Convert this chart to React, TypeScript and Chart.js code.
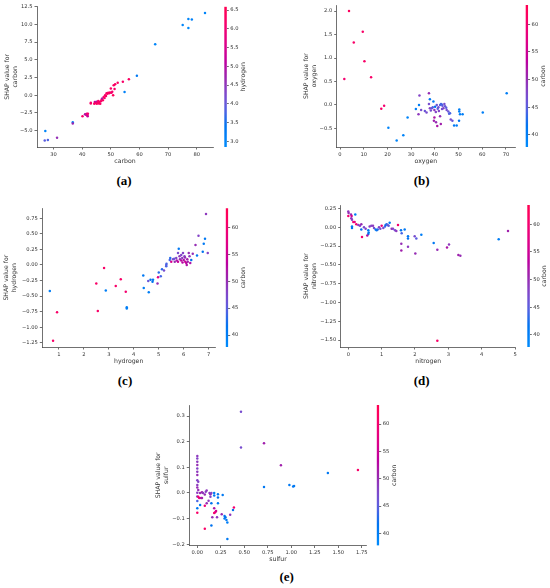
import React, { useEffect, useRef } from 'react'
import { Chart, registerables } from 'chart.js'

Chart.register(...registerables)

const FONT = '"DejaVu Sans", sans-serif'
const INK = '#333333'

// ---- (a) carbon vs SHAP, coloured by hydrogen ----
const aCarbon = [27.1, 26.9, 28.0, 31.2, 36.7, 36.7, 40.1, 41.0, 41.3, 41.6, 41.8, 42.0, 41.9, 43.0, 43.0, 44.2, 44.4, 44.6, 45.0, 45.1, 45.4, 45.6, 45.8, 46.0, 46.3, 46.5, 46.8, 47.0, 47.2, 47.5, 47.8, 48.0, 48.3, 48.5, 48.8, 49.1, 49.4, 49.7, 50.0, 50.2, 50.5, 50.8, 51.0, 51.3, 51.5, 52.4, 54.2, 56.3, 54.8, 59.1, 65.5, 75.1, 77.1, 77.1, 78.3, 82.9]
const aShap = [-5.05, -6.4, -6.3, -6.0, -3.8, -4.0, -2.97, -2.69, -2.75, -2.6, -2.85, -2.62, -2.95, -1.15, -1.05, -1.2, -0.95, -1.1, -0.9, -1.2, -1.0, -0.8, -1.15, -0.95, -1.2, -0.85, -0.6, -0.45, -0.7, -0.25, -0.4, 0.0, -0.1, 0.3, 0.2, 0.35, 0.3, 0.4, 0.95, 0.35, 0.5, 0.0, 1.4, 0.9, 1.55, 1.75, 1.9, 2.26, 0.47, 2.74, 7.2, 9.9, 9.5, 10.75, 10.7, 11.6]
const aHydrogen = [3.0, 3.9, 3.8, 4.6, 3.1, 4.7, 6.2, 5.0, 4.9, 5.8, 5.9, 6.1, 5.3, 6.3, 6.2, 6.3, 5.2, 6.4, 5.0, 6.3, 6.2, 6.1, 6.4, 6.3, 6.2, 6.3, 6.0, 4.8, 6.3, 6.2, 6.4, 6.3, 6.2, 6.1, 6.3, 6.4, 6.2, 6.3, 6.3, 6.2, 6.1, 6.4, 6.3, 6.2, 6.3, 6.3, 6.2, 6.3, 3.1, 3.3, 3.0, 3.0, 2.9, 3.0, 3.1, 3.0]

// ---- (b) oxygen vs SHAP, coloured by carbon ----
const bOxygen = [3.8, 9.6, 5.8, 10.3, 13.1, 1.8, 18.6, 17.4, 20.4, 23.9, 26.7, 28.5, 32.0, 33.3, 33.5, 33.1, 34.2, 35.8, 36.5, 37.5, 37.9, 37.5, 37.9, 38.7, 39.4, 39.1, 39.8, 40.1, 40.8, 41.5, 41.7, 42.2, 42.6, 43.2, 43.6, 44.0, 44.3, 45.0, 45.7, 46.0, 46.4, 39.8, 39.6, 40.5, 41.0, 42.5, 42.2, 46.7, 47.4, 48.1, 49.2, 50.2, 50.3, 50.3, 50.6, 51.7, 60.2, 70.3, 41.2, 43.0, 44.8, 38.3, 42.9, 40.4]
const bShap = [2.0, 1.56, 1.33, 0.93, 0.59, 0.55, -0.02, -0.08, -0.49, -0.76, -0.65, -0.27, -0.09, 0.0, 0.2, -0.2, -0.11, -0.13, -0.16, 0.25, 0.12, 0.02, -0.07, -0.07, 0.07, -0.05, -0.11, -0.04, 0.0, -0.05, -0.13, 0.0, 0.02, -0.02, -0.07, 0.02, -0.03, -0.11, -0.14, -0.19, -0.18, -0.27, -0.34, -0.37, -0.45, -0.41, -0.24, -0.31, -0.34, -0.44, -0.44, -0.34, -0.1, -0.14, -0.2, -0.2, -0.16, 0.25, -0.08, -0.09, -0.06, -0.12, 0.01, -0.15]
const bCarbon = [62, 61, 61, 61, 61, 60, 60, 61, 39, 39, 39, 39, 40, 40, 48, 49, 47, 46, 47, 50, 41, 47, 48, 46, 41, 45, 49, 42, 46, 47, 48, 45, 44, 46, 48, 47, 46, 47, 46, 45, 44, 52, 51, 50, 52, 51, 50, 47, 46, 41, 40, 42, 40, 40, 40, 40, 40, 40, 45, 47, 45, 47, 44, 48]

// ---- (c) hydrogen vs SHAP, coloured by carbon ----
const cHydrogen = [0.64, 0.77, 0.93, 2.50, 2.56, 2.81, 2.88, 3.28, 3.48, 3.68, 3.72, 3.72, 4.38, 4.40, 4.58, 4.60, 4.67, 4.75, 4.77, 4.95, 4.97, 5.00, 5.08, 5.13, 5.21, 5.30, 5.30, 5.31, 5.44, 5.46, 5.50, 5.57, 5.64, 5.70, 5.77, 5.77, 5.80, 5.83, 5.90, 5.90, 5.94, 5.97, 6.00, 6.03, 6.06, 6.10, 6.12, 6.16, 6.20, 6.23, 6.26, 6.30, 6.36, 6.47, 6.53, 6.59, 6.76, 6.80, 6.85, 6.89, 6.96, 5.85, 5.95, 6.05, 5.72, 6.14, 5.62]
const cShap = [-0.42, -1.22, -0.76, -0.30, -0.74, -0.05, -0.41, -0.34, -0.23, -0.43, -0.68, -0.70, -0.17, -0.37, -0.26, -0.44, -0.24, -0.27, -0.24, -0.30, -0.20, -0.12, -0.18, -0.07, -0.09, -0.02, 0.00, 0.02, 0.08, 0.11, 0.05, 0.09, 0.05, 0.11, 0.19, 0.05, 0.26, 0.14, 0.16, 0.07, 0.11, 0.19, 0.08, 0.14, 0.05, 0.03, 0.00, 0.05, 0.19, 0.14, 0.03, 0.08, 0.18, 0.32, 0.15, 0.47, 0.21, 0.34, 0.42, 0.82, 0.19, 0.09, 0.04, 0.12, 0.07, 0.09, 0.10]
const cCarbon = [40, 61, 61, 61, 61, 61, 40, 61, 61, 60, 40, 40, 41, 40, 46, 40, 42, 42, 41, 50, 57, 43, 44, 43, 47, 44, 45, 44, 44, 43, 56, 47, 50, 48, 47, 55, 41, 49, 48, 54, 49, 48, 52, 48, 55, 54, 52, 51, 50, 49, 52, 42, 50, 50, 41, 48, 42, 41, 41, 49, 48, 50, 53, 50, 52, 51, 46]

// ---- (d) nitrogen vs SHAP, coloured by carbon ----
const dNitrogen = [0.00, 0.01, 0.00, 0.08, 0.10, 0.21, 0.09, 0.11, 0.15, 0.19, 0.24, 0.11, 0.11, 0.30, 0.35, 0.39, 0.41, 0.39, 0.47, 0.52, 0.60, 0.61, 0.60, 0.57, 0.64, 0.69, 0.74, 0.77, 0.82, 0.85, 0.88, 0.92, 0.96, 1.00, 1.05, 1.10, 1.12, 1.15, 1.18, 1.21, 1.24, 1.30, 1.34, 1.40, 1.44, 1.49, 1.58, 1.60, 1.59, 1.59, 1.69, 1.79, 1.79, 1.79, 1.99, 2.04, 2.01, 2.19, 2.56, 2.67, 2.67, 2.96, 3.02, 3.30, 3.36, 4.51, 4.79]
const dShap = [0.21, 0.19, 0.15, 0.17, 0.15, 0.17, 0.12, 0.10, 0.07, 0.07, 0.04, 0.01, -0.01, 0.03, 0.02, 0.04, -0.13, -0.03, 0.00, -0.02, -0.04, -0.07, -0.09, -0.11, 0.01, 0.02, 0.02, -0.01, -0.03, -0.04, -0.03, 0.00, -0.02, 0.02, -0.01, 0.01, 0.03, 0.04, 0.03, 0.02, 0.06, -0.02, -0.02, -0.04, -0.05, 0.03, -0.04, -0.08, -0.22, -0.31, -0.03, -0.12, -0.15, -0.26, -0.12, -0.15, -0.35, -0.10, -0.21, -0.30, -1.51, -0.27, -0.23, -0.37, -0.38, -0.16, -0.05]
const dCarbon = [49, 50, 60, 50, 56, 40, 49, 48, 60, 58, 60, 41, 42, 49, 48, 50, 60, 42, 47, 48, 41, 41, 42, 52, 49, 48, 49, 47, 42, 41, 43, 48, 47, 59, 47, 44, 42, 43, 46, 45, 41, 50, 48, 47, 49, 60, 42, 44, 50, 51, 41, 41, 42, 49, 47, 45, 50, 40, 41, 50, 61, 52, 49, 51, 50, 40, 51]

// ---- (e) sulfur vs SHAP, coloured by carbon ----
const eSulfur = [0, 0, 0, 0, 0, 0, 0, 0, 0, 0, 0, 0, 0.01, 0.01, 0.0, 0.0, 0.0, 0.03, 0.05, 0.06, 0.08, 0.09, 0.10, 0.04, 0.05, 0.02, 0.01, 0.03, 0.08, 0.10, 0.12, 0.13, 0.14, 0.14, 0.15, 0.18, 0.18, 0.22, 0.22, 0.15, 0.18, 0.19, 0.18, 0.20, 0.16, 0.21, 0.22, 0.27, 0.26, 0.29, 0.30, 0.29, 0.31, 0.32, 0.35, 0.38, 0.39, 0.15, 0.08, 0.32, 0.465, 0.465, 0.71, 0.89, 0.71, 0.98, 1.02, 1.03, 1.39, 1.71]
const eShap = [0.144, 0.135, 0.122, 0.109, 0.096, 0.083, 0.070, 0.050, 0.031, 0.021, 0.001, -0.014, 0.044, 0.012, -0.031, -0.060, -0.077, 0.000, 0.003, 0.000, -0.006, 0.005, 0.010, -0.020, -0.020, -0.020, -0.015, -0.047, -0.050, -0.040, -0.030, 0.000, -0.015, -0.005, 0.000, -0.010, 0.000, -0.005, -0.018, -0.040, -0.060, -0.075, -0.078, -0.070, -0.095, -0.095, -0.040, -0.008, -0.083, -0.090, -0.095, -0.100, -0.105, -0.115, -0.085, -0.066, -0.057, -0.127, -0.140, -0.180, 0.317, 0.178, 0.194, 0.108, 0.023, 0.031, 0.025, 0.027, 0.078, 0.090]
const eCarbon = [49, 48, 49, 50, 48, 49, 50, 48, 49, 50, 49, 48, 48, 50, 44, 41, 61, 50, 51, 49, 50, 48, 49, 52, 51, 57, 60, 41, 59, 50, 49, 49, 48, 50, 48, 41, 40, 41, 42, 42, 52, 58, 60, 56, 50, 49, 41, 41, 50, 41, 42, 41, 41, 40, 49, 42, 60, 42, 61, 41, 47, 47, 51, 51, 41, 41, 41, 41, 41, 61]

// ---- tick labels ----
const aXTicks = [30, 40, 50, 60, 70, 80]
const aYTicks = [-5, -2.5, 0, 2.5, 5, 7.5, 10, 12.5]
const bXTicks = [0, 10, 20, 30, 40, 50, 60, 70]
const bYTicks = [-0.5, 0, 0.5, 1, 1.5, 2]
const cXTicks = [1, 2, 3, 4, 5, 6, 7]
const cYTicks = [-1.25, -1, -0.75, -0.5, -0.25, 0, 0.25, 0.5, 0.75]
const dXTicks = [0, 1, 2, 3, 4, 5]
const dYTicks = [-1.5, -1.25, -1, -0.75, -0.5, -0.25, 0, 0.25]
const eXTicks = [0, 0.25, 0.5, 0.75, 1, 1.25, 1.5, 1.75]
const eYTicks = [-0.2, -0.1, 0, 0.1, 0.2, 0.3]
const hydrogenTicks = [3, 3.5, 4, 4.5, 5, 5.5, 6, 6.5]
const carbonTicks = [40, 45, 50, 55, 60]

// shap red_blue colour map (interpolated in LCH space)
function lchToRgb (l: number, c: number, h: number) {
  const a = c * Math.cos(h)
  const b = c * Math.sin(h)
  const fy = (l + 16) / 116
  const fx = fy + a / 500
  const fz = fy - b / 200
  const finv = (t: number) => (t > 6 / 29 ? t * t * t : 3 * (6 / 29) ** 2 * (t - 4 / 29))
  const X = 0.95047 * finv(fx)
  const Y = finv(fy)
  const Z = 1.08883 * finv(fz)
  const lin = [
    3.2406 * X - 1.5372 * Y - 0.4986 * Z,
    -0.9689 * X + 1.8758 * Y + 0.0415 * Z,
    0.0557 * X - 0.204 * Y + 1.057 * Z,
  ]
  return lin.map(v => {
    const u = Math.min(1, Math.max(0, v))
    const s = u <= 0.0031308 ? 12.92 * u : 1.055 * Math.pow(u, 1 / 2.4) - 0.055
    return Math.round(s * 255)
  })
}

function redBlue (t: number) {
  const k = Math.min(1, Math.max(0, t))
  const l = k < 0.5 ? 54 - 14 * (k / 0.5) : 40 + 14 * ((k - 0.5) / 0.5)
  const c = 70 + 20 * k
  const h = 4.6588 + (0.35470565 + 2 * Math.PI - 4.6588) * k
  const [r, g, b] = lchToRgb(l, c, h)
  return `rgb(${r},${g},${b})`
}

const fmt = (v: number, d: number) => (v < 0 ? '\u2212' : '') + Math.abs(v).toFixed(d)

interface PanelSpec {
  tag: string
  feature: string
  colorBy: string
  xs: number[]
  ys: number[]
  cs: number[]
  xTicks: number[]
  yTicks: number[]
  cTicks: number[]
  xDec: number
  yDec: number
  cDec: number
  xRange: [number, number]
  yRange: [number, number]
  cRange: [number, number]
  plot: { left: number, right: number, top: number, bottom: number }
  yTitleX: number
  xTitleY: number
  cbX: number
  cbLabelOff: number
  tagPos: [number, number]
}

const panels: PanelSpec[] = [
  {
    tag: '(a)', feature: 'carbon', colorBy: 'hydrogen', xs: aCarbon, ys: aShap, cs: aHydrogen,
    xTicks: aXTicks, yTicks: aYTicks, cTicks: hydrogenTicks, xDec: 0, yDec: 1, cDec: 1,
    xRange: [24.2, 85.7], yRange: [-7.3, 12.5], cRange: [2.85, 6.59],
    plot: { left: 37, right: 213, top: 6.7, bottom: 147 }, yTitleX: 7, xTitleY: 161,
    cbX: 224.3, cbLabelOff: 16.5, tagPos: [124, 181],
  },
  {
    tag: '(b)', feature: 'oxygen', colorBy: 'carbon', xs: bOxygen, ys: bShap, cs: bCarbon,
    xTicks: bXTicks, yTicks: bYTicks, cTicks: carbonTicks, xDec: 0, yDec: 1, cDec: 0,
    xRange: [-1.4, 73.8], yRange: [-0.898, 2.128], cRange: [37.8, 63.5],
    plot: { left: 336.7, right: 515, top: 5, bottom: 147 }, yTitleX: 306.7, xTitleY: 161,
    cbX: 525.6, cbLabelOff: 15.1, tagPos: [421.7, 181],
  },
  {
    tag: '(c)', feature: 'hydrogen', colorBy: 'carbon', xs: cHydrogen, ys: cShap, cs: cCarbon,
    xTicks: cXTicks, yTicks: cYTicks, cTicks: carbonTicks, xDec: 0, yDec: 2, cDec: 0,
    xRange: [0.34, 7.25], yRange: [-1.319, 0.91], cRange: [37.8, 63.5],
    plot: { left: 42.3, right: 215, top: 208.3, bottom: 347 }, yTitleX: 6.7, xTitleY: 361,
    cbX: 225.7, cbLabelOff: 15.1, tagPos: [125, 381],
  },
  {
    tag: '(d)', feature: 'nitrogen', colorBy: 'carbon', xs: dNitrogen, ys: dShap, cs: dCarbon,
    xTicks: dXTicks, yTicks: dYTicks, cTicks: carbonTicks, xDec: 0, yDec: 2, cDec: 0,
    xRange: [-0.228, 5.02], yRange: [-1.593, 0.294], cRange: [37.8, 63.5],
    plot: { left: 340.7, right: 515.7, top: 205, bottom: 347 }, yTitleX: 306.7, xTitleY: 361,
    cbX: 527.3, cbLabelOff: 14.8, tagPos: [421.7, 381],
  },
  {
    tag: '(e)', feature: 'sulfur', colorBy: 'carbon', xs: eSulfur, ys: eShap, cs: eCarbon,
    xTicks: eXTicks, yTicks: eYTicks, cTicks: carbonTicks, xDec: 2, yDec: 1, cDec: 0,
    xRange: [-0.085, 1.803], yRange: [-0.205, 0.343], cRange: [37.8, 63.5],
    plot: { left: 189.3, right: 366.7, top: 405, bottom: 545.5 }, yTitleX: 158.3, xTitleY: 559,
    cbX: 376.7, cbLabelOff: 14.8, tagPos: [286.7, 577],
  },
]

const TICK_SIZE = 5.2
const TITLE_SIZE = 6.2
const Y_LH = 1.3
const X_LH = 1.2

function geometry (p: PanelSpec) {
  const titleLeft = p.yTitleX - (3 + (TITLE_SIZE * Y_LH) / 2)
  const left = Math.floor(titleLeft)
  const top = Math.floor(p.plot.top - 5)
  const bottomEdge = p.xTitleY + (TITLE_SIZE * X_LH) / 2 + 1
  const bottom = Math.ceil(bottomEdge)
  const right = Math.ceil(p.plot.right + 6)
  const cbLeft = Math.floor(p.cbX - 2)
  const cbRight = Math.min(550, cbLeft + 30)
  const cbBottom = Math.ceil(p.plot.bottom + 5)
  return {
    left, top, width: right - left, height: bottom - top,
    padLeft: titleLeft - left, padTop: p.plot.top - top, padRight: right - p.plot.right, padBottom: bottom - bottomEdge,
    yAxisW: p.plot.left - titleLeft, xAxisH: bottomEdge - p.plot.bottom,
    cbLeft, cbWidth: cbRight - cbLeft, cbHeight: cbBottom - top,
    cbPadLeft: p.cbX - cbLeft, cbPadBottom: cbBottom - p.plot.bottom,
    cbAxisW: cbRight - cbLeft - (p.cbX - cbLeft) - 2.5,
  }
}

function Panel ({ p }: { p: PanelSpec }) {
  const plotRef = useRef<HTMLCanvasElement>(null)
  const barRef = useRef<HTMLCanvasElement>(null)
  const g = geometry(p)

  useEffect(() => {
    if (!plotRef.current || !barRef.current) return
    const norm = (v: number) => (v - p.cRange[0]) / (p.cRange[1] - p.cRange[0])
    const axisLine = { display: true, color: INK, width: 0.7 }
    const tickGrid = { drawOnChartArea: false, drawTicks: true, tickLength: 2.5, color: INK, lineWidth: 0.7 }
    const tickFont = { family: FONT, size: TICK_SIZE, lineHeight: 1.2 }

    const scatter = new Chart(plotRef.current, {
      type: 'scatter',
      data: {
        datasets: [{
          data: p.xs.map((x, i) => ({ x, y: p.ys[i] })),
          backgroundColor: p.cs.map(c => redBlue(norm(c))),
          pointRadius: 1.25,
          pointHoverRadius: 1.25,
          borderWidth: 0,
        }],
      },
      options: {
        responsive: false,
        animation: false,
        events: [],
        layout: { padding: { left: g.padLeft, top: g.padTop, right: g.padRight, bottom: g.padBottom } },
        plugins: { legend: { display: false }, tooltip: { enabled: false } },
        scales: {
          x: {
            type: 'linear',
            min: p.xRange[0],
            max: p.xRange[1],
            afterBuildTicks: (s: any) => { s.ticks = p.xTicks.map(v => ({ value: v })) },
            afterFit: (s: any) => { s.height = g.xAxisH },
            ticks: { font: tickFont, color: INK, padding: 2, maxRotation: 0, autoSkip: false, callback: (v: any) => fmt(Number(v), p.xDec) },
            grid: tickGrid,
            border: axisLine,
            title: { display: true, text: p.feature, color: INK, font: { family: FONT, size: TITLE_SIZE, lineHeight: X_LH }, padding: { top: 0, bottom: 1 } },
          },
          y: {
            type: 'linear',
            min: p.yRange[0],
            max: p.yRange[1],
            afterBuildTicks: (s: any) => { s.ticks = p.yTicks.map(v => ({ value: v })) },
            afterFit: (s: any) => { s.width = g.yAxisW },
            ticks: { font: tickFont, color: INK, padding: 2, autoSkip: false, callback: (v: any) => fmt(Number(v), p.yDec) },
            grid: tickGrid,
            border: axisLine,
            title: { display: true, text: ['SHAP value for', p.feature], color: INK, font: { family: FONT, size: TITLE_SIZE, lineHeight: Y_LH }, padding: { top: 3, bottom: 0 } },
          },
        },
      },
    })

    const labelPlugin = {
      id: 'cbLabel',
      afterDraw (chart: any) {
        const { ctx, chartArea } = chart
        ctx.save()
        ctx.translate(chartArea.right + p.cbLabelOff, (chartArea.top + chartArea.bottom) / 2)
        ctx.rotate(-Math.PI / 2)
        ctx.font = `${TITLE_SIZE}px ${FONT}`
        ctx.fillStyle = INK
        ctx.textAlign = 'center'
        ctx.textBaseline = 'middle'
        ctx.fillText(p.colorBy, 0, 0)
        ctx.restore()
      },
    }

    const colorbar = new Chart(barRef.current, {
      type: 'bar',
      data: {
        labels: [''],
        datasets: [{
          data: [[p.cRange[0], p.cRange[1]]] as any,
          backgroundColor: (c: any) => {
            const { ctx, chartArea } = c.chart
            if (!chartArea) return redBlue(0.5)
            const grad = ctx.createLinearGradient(0, chartArea.bottom, 0, chartArea.top)
            for (let i = 0; i <= 20; i++) grad.addColorStop(i / 20, redBlue(i / 20))
            return grad
          },
          borderWidth: 0,
          barPercentage: 1,
          categoryPercentage: 1,
        }],
      },
      options: {
        responsive: false,
        animation: false,
        events: [],
        layout: { padding: { left: g.cbPadLeft, top: g.padTop, right: 0, bottom: g.cbPadBottom } },
        plugins: { legend: { display: false }, tooltip: { enabled: false } },
        scales: {
          x: { display: false },
          y: {
            position: 'right',
            min: p.cRange[0],
            max: p.cRange[1],
            afterBuildTicks: (s: any) => { s.ticks = p.cTicks.map(v => ({ value: v })) },
            afterFit: (s: any) => { s.width = g.cbAxisW },
            ticks: { font: tickFont, color: INK, padding: 1.5, autoSkip: false, callback: (v: any) => fmt(Number(v), p.cDec) },
            grid: { drawOnChartArea: false, drawTicks: true, tickLength: 2, color: INK, lineWidth: 0.7 },
            border: { display: false },
          },
        },
      },
      plugins: [labelPlugin],
    })

    return () => {
      scatter.destroy()
      colorbar.destroy()
    }
  }, [p])

  return (
    <>
      <canvas ref={plotRef} width={g.width} height={g.height}
        style={{ position: 'absolute', left: g.left, top: g.top, width: g.width, height: g.height }} />
      <canvas ref={barRef} width={g.cbWidth} height={g.cbHeight}
        style={{ position: 'absolute', left: g.cbLeft, top: g.top, width: g.cbWidth, height: g.cbHeight }} />
      <div style={{
        position: 'absolute', left: p.tagPos[0], top: p.tagPos[1], transform: 'translate(-50%, -50%)',
        fontFamily: '"Liberation Serif", serif', fontWeight: 'bold', fontSize: 13, color: '#000', whiteSpace: 'nowrap',
      }}>{p.tag}</div>
    </>
  )
}

export default function App () {
  return (
    <div style={{ position: 'absolute', left: 0, top: 0, width: 550, height: 588, background: '#fff', overflow: 'hidden' }}>
      {panels.map(p => <Panel key={p.tag} p={p} />)}
    </div>
  )
}
